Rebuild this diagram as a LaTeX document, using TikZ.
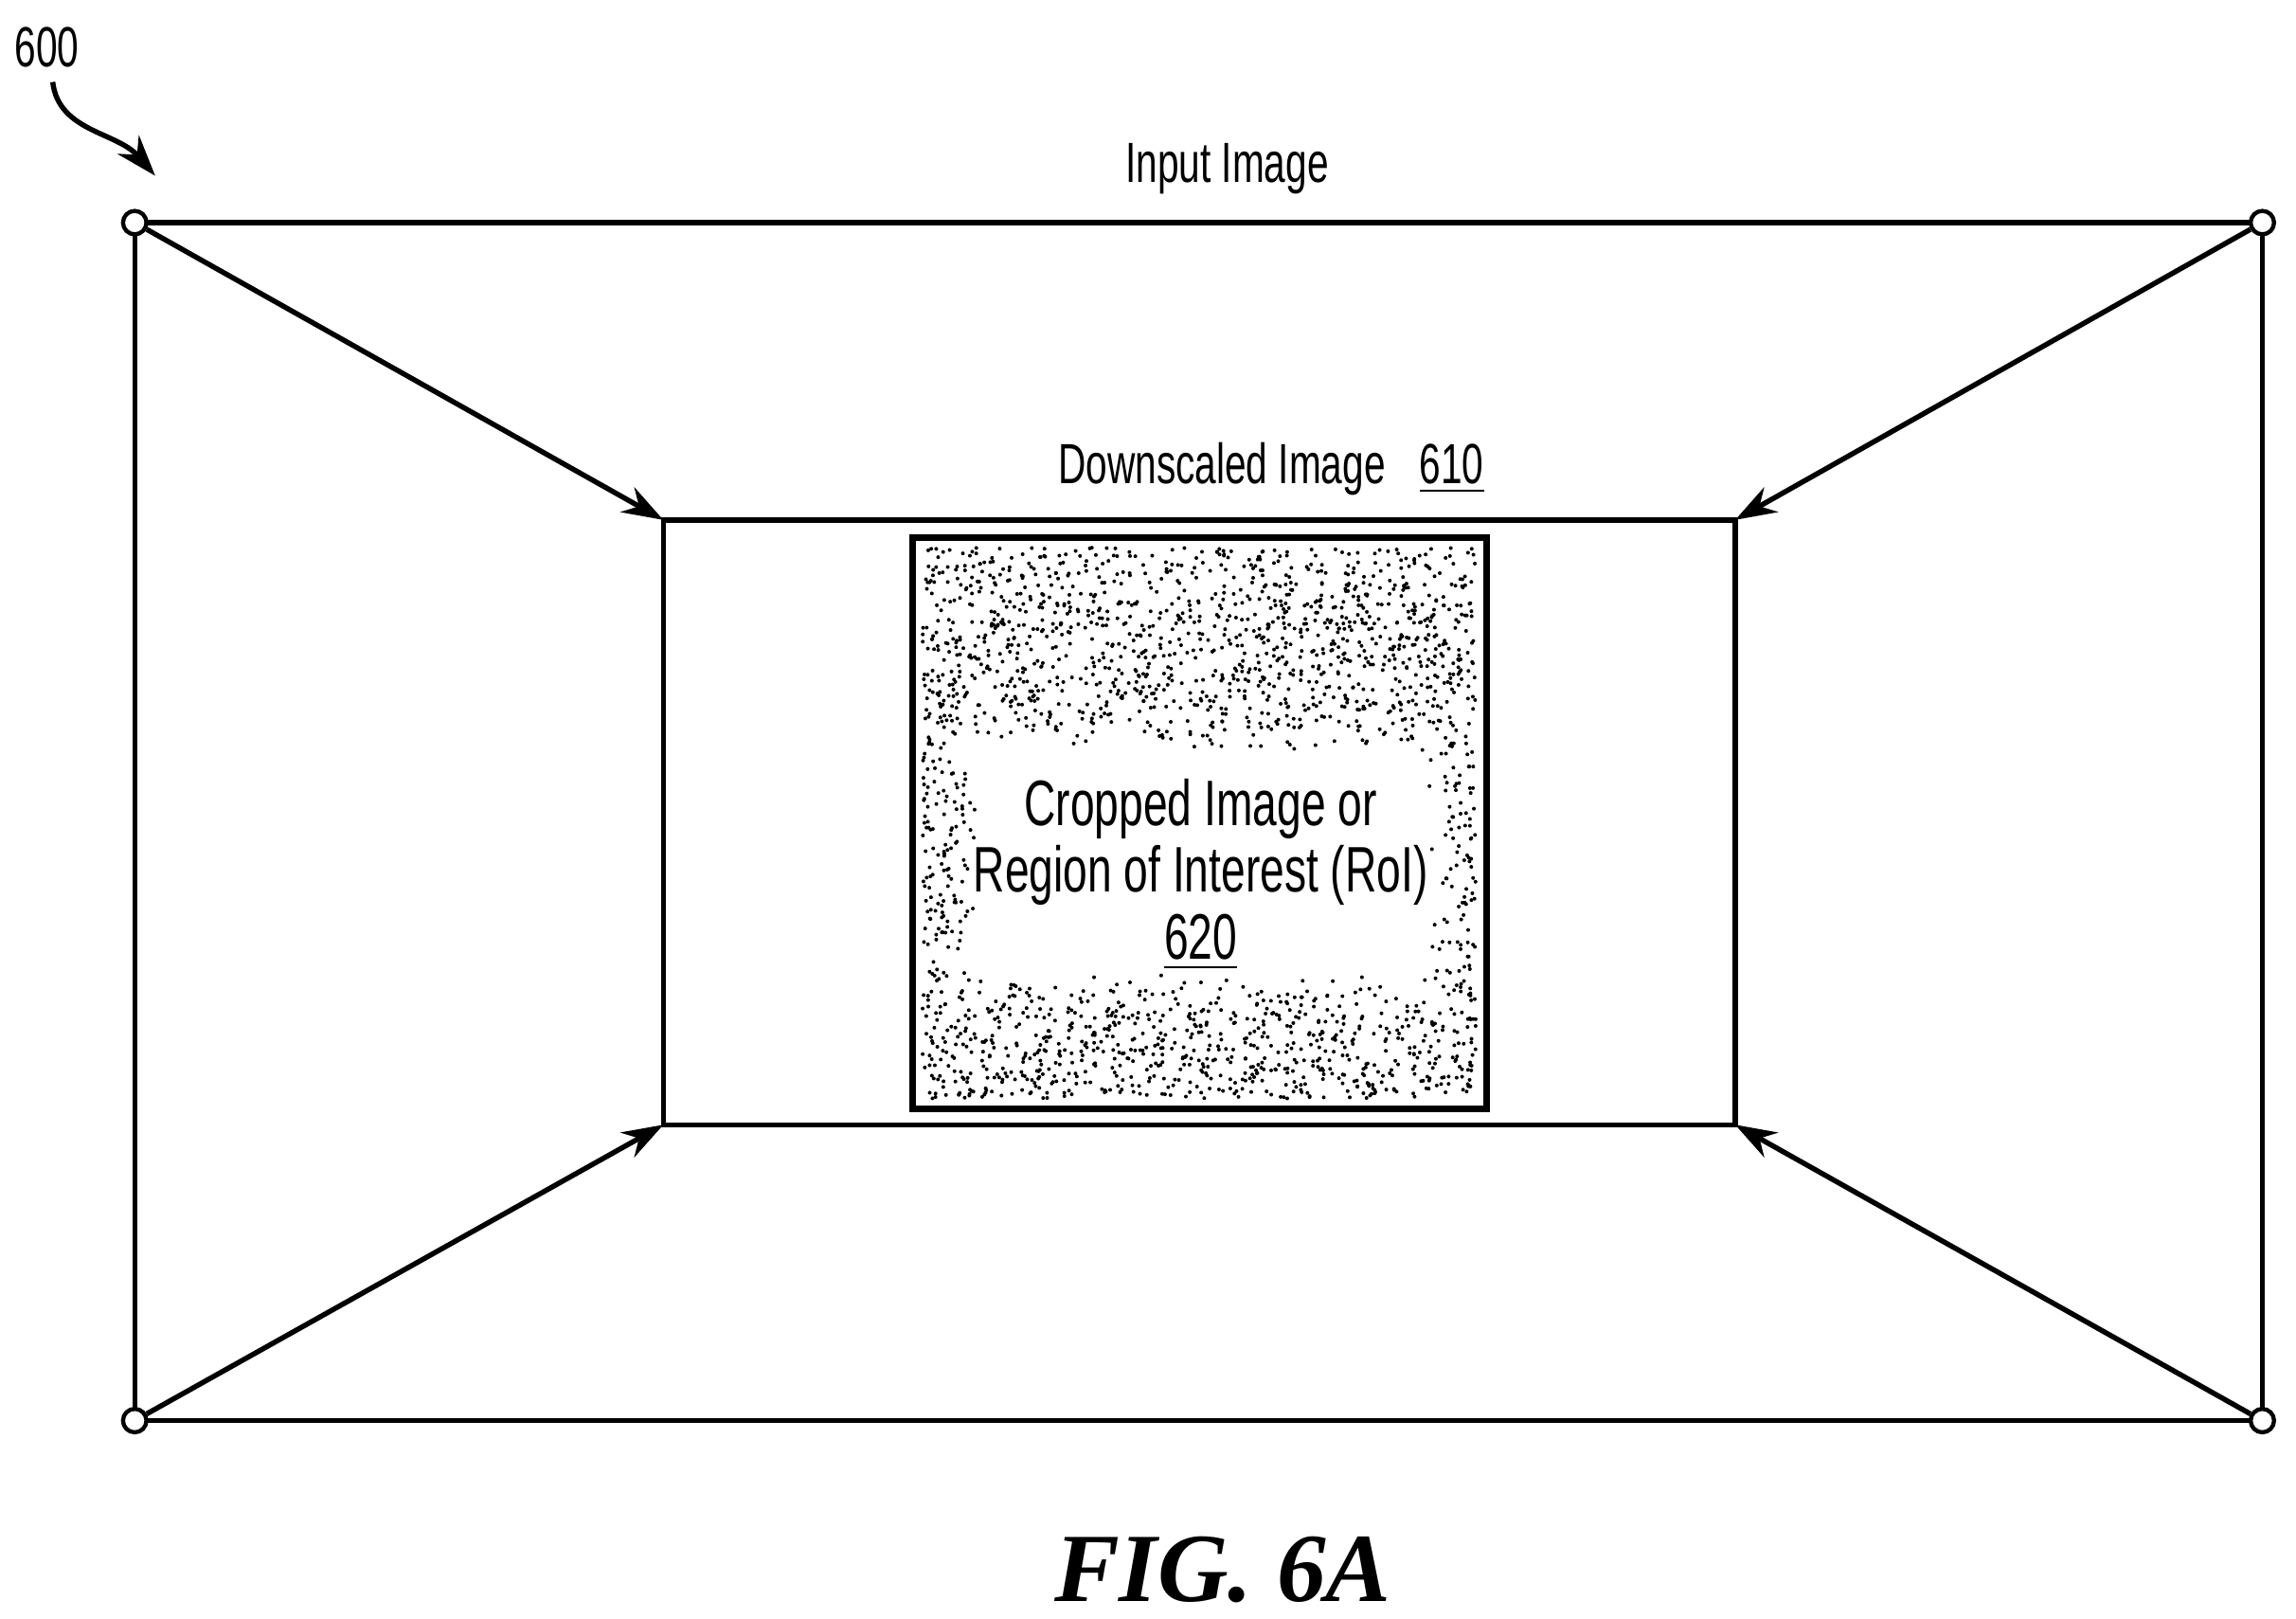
\documentclass[tikz,border=0pt]{standalone}
\usepackage{fontspec}
\setmainfont{Liberation Sans}[FakeStretch=0.68]
\newfontfamily\figfont{Liberation Serif}
\usetikzlibrary{arrows.meta,positioning}

\begin{document}
\begin{tikzpicture}[
    corner/.style={
        circle,
        draw,
        fill=white,
        line width=0.8pt,
        minimum size=1.6mm,
        inner sep=0pt,
    },
    frame/.style={
        line width=1pt,
    },
    arrow/.style={
        -{Stealth[length=8pt, width=5.5pt]},
        line width=1pt,
    },
    label/.style={
        font=\fontsize{11}{13}\selectfont,
    },
]
\useasboundingbox (0,0) rectangle (15.68,-11.05);

% === Frames ===
\draw[frame] (0.92,-1.52) rectangle (15.45,-9.70);
\draw[frame] (4.53,-3.55) rectangle (11.85,-7.68);

% === Corners ===
\node[corner] (tl) at (0.92,-1.52) {};
\node[corner] (tr) at (15.45,-1.52) {};
\node[corner] (bl) at (0.92,-9.70) {};
\node[corner] (br) at (15.45,-9.70) {};
\coordinate (itl) at (4.53,-3.55);
\coordinate (itr) at (11.85,-3.55);
\coordinate (ibl) at (4.53,-7.68);
\coordinate (ibr) at (11.85,-7.68);

% === Arrows ===
\draw[arrow] (tl) -- (itl);
\draw[arrow] (tr) -- (itr);
\draw[arrow] (bl) -- (ibl);
\draw[arrow] (br) -- (ibr);

% === Region of interest ===
\draw[frame, line width=1.3pt] (6.23,-3.67) rectangle (10.15,-7.57);
\pgfmathsetseed{42}
\foreach \i in {1,...,4000} {
    \pgfmathsetmacro{\px}{6.3+rnd*3.78}
    \pgfmathsetmacro{\py}{-3.74-rnd*3.76}
    \pgfmathsetmacro{\fz}{rnd*0.3}
    \pgfmathparse{(\px>6.72-\fz && \px<9.72+\fz && \py<-5.15+\fz && \py>-6.65-\fz) ? 0 : 1}
    \ifnum\pgfmathresult=1
        \fill (\px,\py) circle (0.013);
    \fi
}
\node[align=center, font=\fontsize{12.5}{13}\selectfont] (roi) at (8.2,-5.97)
    {Cropped Image or\\Region of Interest (RoI)\\\underline{620}};

% === Labels ===
\node[label] (input) at (8.38,-1.15) {Input Image};
\node[label] (down) at (8.68,-3.2) {Downscaled Image\hspace{0.6em}\underline{610}};
\node[label] (ref) at (0.32,-0.32) {600};
\coordinate (refend) at (1.06,-1.2);
\draw[arrow] (0.36,-0.56) .. controls (0.4,-0.9) and (0.8,-0.9) .. (refend);

\node[font=\figfont\fontsize{19}{22}\selectfont\bfseries\itshape] (fig) at (8.35,-10.72) {FIG. 6A};
\end{tikzpicture}
\end{document}
